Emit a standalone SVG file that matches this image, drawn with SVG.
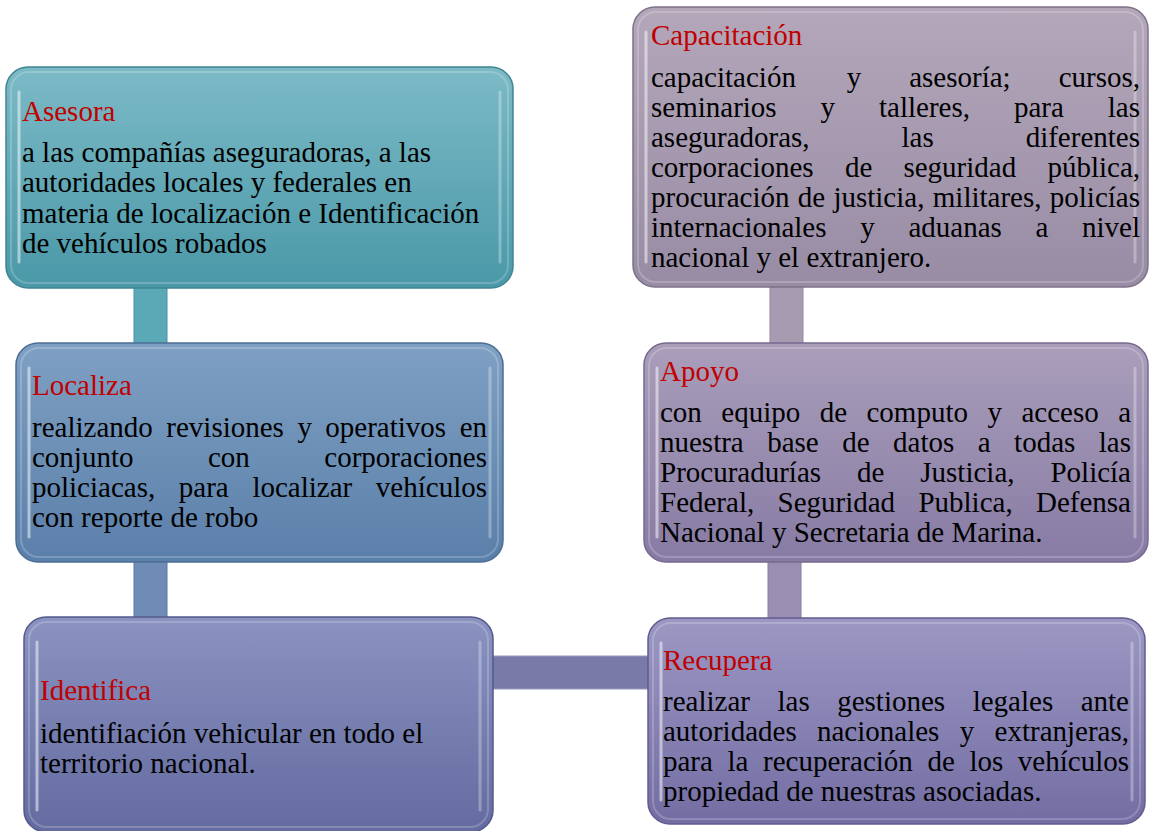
<svg xmlns="http://www.w3.org/2000/svg" width="1154" height="831" viewBox="0 0 1154 831">
<style>
text{font-family:"Liberation Serif","Times New Roman",serif;font-size:29px;fill:#000}
.t{fill:#c00000}
.e{text-anchor:end}
.hl{fill:none;stroke:#ffffff;stroke-opacity:0.2;stroke-width:2}
.vl{stroke:#ffffff;stroke-opacity:0.5;stroke-width:3;stroke-linecap:round}
.vr{stroke:#ffffff;stroke-opacity:0.3;stroke-width:3;stroke-linecap:round}
.con{stroke-width:1}
</style>
<defs>
<linearGradient id="gA" x1="0" y1="0" x2="0" y2="1"><stop offset="0" stop-color="#7cbac6"/><stop offset="1" stop-color="#4a98a8"/></linearGradient>
<linearGradient id="gB" x1="0" y1="0" x2="0" y2="1"><stop offset="0" stop-color="#7fa0c3"/><stop offset="1" stop-color="#5a7fa9"/></linearGradient>
<linearGradient id="gC" x1="0" y1="0" x2="0" y2="1"><stop offset="0" stop-color="#8b93c1"/><stop offset="1" stop-color="#636ba0"/></linearGradient>
<linearGradient id="gD" x1="0" y1="0" x2="0" y2="1"><stop offset="0" stop-color="#b4a7ba"/><stop offset="1" stop-color="#988ca5"/></linearGradient>
<linearGradient id="gE" x1="0" y1="0" x2="0" y2="1"><stop offset="0" stop-color="#aa9ebb"/><stop offset="1" stop-color="#877ba4"/></linearGradient>
<linearGradient id="gF" x1="0" y1="0" x2="0" y2="1"><stop offset="0" stop-color="#9c98c3"/><stop offset="1" stop-color="#736da3"/></linearGradient>
</defs>

<g id="connectors">
<rect class="con" x="134" y="280" width="33" height="70" fill="#5ba8b6" stroke="#4a92a0"/>
<rect class="con" x="134" y="555" width="33" height="70" fill="#6e8cb5" stroke="#5a78a0"/>
<rect class="con" x="485" y="656" width="170" height="33" fill="#7a7aa9" stroke="#9a9ac0"/>
<rect class="con" x="770" y="280" width="33" height="70" fill="#a69bb1" stroke="#958aa0"/>
<rect class="con" x="768" y="555" width="33" height="70" fill="#9a8fb3" stroke="#887da2"/>
</g>

<g id="node-asesora">
<rect x="6" y="67" width="507" height="221" rx="22" fill="url(#gA)" stroke="#3f8594" stroke-width="1.5"/>
<rect class="hl" x="11" y="72" width="497" height="211" rx="18"/>
<line class="vl" x1="19" y1="92" x2="19" y2="262"/>
<line class="vr" x1="500" y1="92" x2="500" y2="262"/>
<text class="t" x="22" y="121">Asesora</text>
<text x="22" y="162">a las compañías aseguradoras, a las</text>
<text x="22" y="192">autoridades locales y federales en</text>
<text x="22" y="223">materia de localización e Identificación</text>
<text x="22" y="253">de vehículos robados</text>
</g>

<g id="node-localiza">
<rect x="16" y="343" width="487" height="219" rx="22" fill="url(#gB)" stroke="#4c6d94" stroke-width="1.5"/>
<rect class="hl" x="21" y="348" width="477" height="209" rx="18"/>
<line class="vl" x1="29" y1="368" x2="29" y2="537"/>
<line class="vr" x1="490" y1="368" x2="490" y2="537"/>
<text class="t" x="32" y="395">Localiza</text>
<text y="437"><tspan x="32">realizando</tspan><tspan x="166.3">revisiones</tspan><tspan x="297.4">y</tspan><tspan x="325.3">operativos</tspan></text>
<text class="e" x="487" y="437">en</text>
<text y="467"><tspan x="32">conjunto</tspan><tspan x="208">con</tspan></text>
<text class="e" x="487" y="467">corporaciones</text>
<text y="497"><tspan x="32">policiacas,</tspan><tspan x="178.8">para</tspan><tspan x="252.4">localizar</tspan></text>
<text class="e" x="487" y="497">vehículos</text>
<text x="32" y="527">con reporte de robo</text>
</g>

<g id="node-identifica">
<rect x="24" y="617" width="469" height="215" rx="22" fill="url(#gC)" stroke="#545a8a" stroke-width="1.5"/>
<rect class="hl" x="29" y="622" width="459" height="205" rx="18"/>
<line class="vl" x1="37" y1="642" x2="37" y2="810"/>
<line class="vr" x1="480" y1="642" x2="480" y2="810"/>
<text class="t" x="40" y="700">Identifica</text>
<text x="40" y="743">identifiación vehicular en todo el</text>
<text x="40" y="773">territorio nacional.</text>
</g>

<g id="node-capacitacion">
<rect x="633" y="7" width="515" height="280" rx="22" fill="url(#gD)" stroke="#7d7288" stroke-width="1.5"/>
<rect class="hl" x="638" y="12" width="505" height="270" rx="18"/>
<line class="vl" x1="646" y1="32" x2="646" y2="262"/>
<line class="vr" x1="1135" y1="32" x2="1135" y2="262"/>
<text class="t" x="651" y="45">Capacitación</text>
<text y="87"><tspan x="651">capacitación</tspan><tspan x="846.8">y</tspan><tspan x="909.2">asesoría;</tspan></text>
<text class="e" x="1140" y="87">cursos,</text>
<text y="117"><tspan x="651">seminarios</tspan><tspan x="820.6">y</tspan><tspan x="879">talleres,</tspan><tspan x="1014">para</tspan></text>
<text class="e" x="1140" y="117">las</text>
<text y="147"><tspan x="651">aseguradoras,</tspan><tspan x="901.5">las</tspan></text>
<text class="e" x="1140" y="147">diferentes</text>
<text y="177"><tspan x="651">corporaciones</tspan><tspan x="844.9">de</tspan><tspan x="903.4">seguridad</tspan></text>
<text class="e" x="1140" y="177">pública,</text>
<text y="207"><tspan x="651">procuración</tspan><tspan x="797.8">de</tspan><tspan x="833.4">justicia,</tspan><tspan x="932.8">militares,</tspan></text>
<text class="e" x="1140" y="207">policías</text>
<text y="237"><tspan x="651">internacionales</tspan><tspan x="860.2">y</tspan><tspan x="908.4">aduanas</tspan><tspan x="1035.5">a</tspan></text>
<text class="e" x="1140" y="237">nivel</text>
<text x="651" y="267">nacional y el extranjero.</text>
</g>

<g id="node-apoyo">
<rect x="644" y="343" width="504" height="219" rx="22" fill="url(#gE)" stroke="#76698f" stroke-width="1.5"/>
<rect class="hl" x="649" y="348" width="494" height="209" rx="18"/>
<line class="vl" x1="657" y1="368" x2="657" y2="537"/>
<line class="vr" x1="1135" y1="368" x2="1135" y2="537"/>
<text class="t" x="660" y="381">Apoyo</text>
<text y="422"><tspan x="660">con</tspan><tspan x="721.3">equipo</tspan><tspan x="819.7">de</tspan><tspan x="866.5">computo</tspan><tspan x="987.5">y</tspan><tspan x="1021.4">acceso</tspan></text>
<text class="e" x="1131" y="422">a</text>
<text y="452"><tspan x="660">nuestra</tspan><tspan x="767.2">base</tspan><tspan x="842.2">de</tspan><tspan x="893.1">datos</tspan><tspan x="977.8">a</tspan><tspan x="1014.1">todas</tspan></text>
<text class="e" x="1131" y="452">las</text>
<text y="482"><tspan x="660">Procuradurías</tspan><tspan x="857">de</tspan><tspan x="920.3">Justicia,</tspan></text>
<text class="e" x="1131" y="482">Policía</text>
<text y="512"><tspan x="660">Federal,</tspan><tspan x="777.5">Seguridad</tspan><tspan x="918.4">Publica,</tspan></text>
<text class="e" x="1131" y="512">Defensa</text>
<text x="660" y="542">Nacional y Secretaria de Marina.</text>
</g>

<g id="node-recupera">
<rect x="648" y="618" width="497" height="206" rx="22" fill="url(#gF)" stroke="#625c90" stroke-width="1.5"/>
<rect class="hl" x="653" y="623" width="487" height="196" rx="18"/>
<line class="vl" x1="661" y1="643" x2="661" y2="800"/>
<line class="vr" x1="1132" y1="643" x2="1132" y2="800"/>
<text class="t" x="663" y="670">Recupera</text>
<text y="711"><tspan x="663">realizar</tspan><tspan x="777.5">las</tspan><tspan x="837.2">gestiones</tspan><tspan x="972.7">legales</tspan></text>
<text class="e" x="1129" y="711">ante</text>
<text y="741"><tspan x="663">autoridades</tspan><tspan x="817">nacionales</tspan><tspan x="959.7">y</tspan></text>
<text class="e" x="1129" y="741">extranjeras,</text>
<text y="771"><tspan x="663">para</tspan><tspan x="727.5">la</tspan><tspan x="763.1">recuperación</tspan><tspan x="927.4">de</tspan><tspan x="969.4">los</tspan></text>
<text class="e" x="1129" y="771">vehículos</text>
<text x="663" y="801">propiedad de nuestras asociadas.</text>
</g>
</svg>
